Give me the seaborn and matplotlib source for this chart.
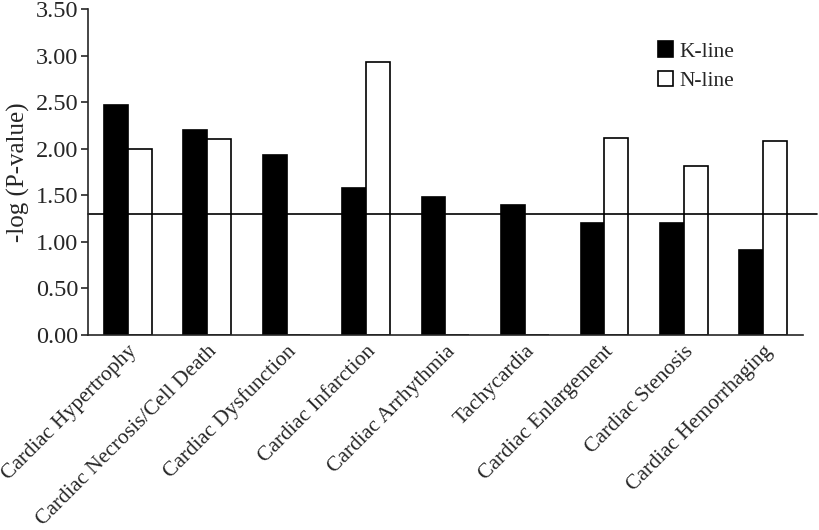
import matplotlib
matplotlib.use("Agg")
import matplotlib.pyplot as plt
from matplotlib.ticker import FormatStrFormatter
import seaborn as sns
import pandas as pd

# Data
categories = [
    "Cardiac Hypertrophy",
    "Cardiac Necrosis/Cell Death",
    "Cardiac Dysfunction",
    "Cardiac Infarction",
    "Cardiac Arrhythmia",
    "Tachycardia",
    "Cardiac Enlargement",
    "Cardiac Stenosis",
    "Cardiac Hemorrhaging",
]
k_line = [2.47, 2.20, 1.93, 1.58, 1.48, 1.40, 1.20, 1.20, 0.91]
n_line = [2.00, 2.10, 0.00, 2.93, 0.00, 0.00, 2.12, 1.81, 2.08]
threshold = 1.30  # -log(0.05)

df = pd.DataFrame({
    "category": categories * 2,
    "value": k_line + n_line,
    "line": ["K-line"] * len(categories) + ["N-line"] * len(categories),
})

sns.set_style("ticks")
plt.rcParams["font.family"] = ["Liberation Serif", "DejaVu Serif"]

fig = plt.figure(figsize=(8.19, 5.30), dpi=100)
ax = fig.add_axes([0.1074, 0.3679, 0.873, 0.615])

sns.barplot(
    data=df, x="category", y="value", hue="line",
    palette={"K-line": "black", "N-line": "white"},
    edgecolor="black", linewidth=1.2, width=0.6, gap=0,
    errorbar=None, ax=ax,
)

# significance threshold
ax.axhline(threshold, xmin=0, xmax=1.02, color="black", linewidth=1.2, clip_on=False)

ax.set_xlim(-0.5, len(categories) - 0.5)
ax.set_ylim(0, 3.5)
ax.set_yticks([0, 0.5, 1.0, 1.5, 2.0, 2.5, 3.0, 3.5])
ax.yaxis.set_major_formatter(FormatStrFormatter("%.2f"))
ax.tick_params(axis="y", labelsize=17.5, length=5, width=1.2, pad=2)
ax.tick_params(axis="x", length=0, pad=5)
ax.set_xticks(range(len(categories)))
ax.set_xticklabels(categories, rotation=45, ha="right", rotation_mode="anchor", fontsize=15.5)

ax.set_xlabel("")
ax.set_ylabel("-log (P-value)", fontsize=18, labelpad=4)

for side in ["top", "right"]:
    ax.spines[side].set_visible(False)
for side in ["left", "bottom"]:
    ax.spines[side].set_linewidth(1.2)

handles, labels = ax.get_legend_handles_labels()
ax.legend(
    handles, labels, loc="upper left", bbox_to_anchor=(0.77, 0.96),
    frameon=False, fontsize=15.5, handlelength=0.7, handleheight=0.7,
    handletextpad=0.3, labelspacing=0.45,
)

fig.savefig("out.png", dpi=100)
